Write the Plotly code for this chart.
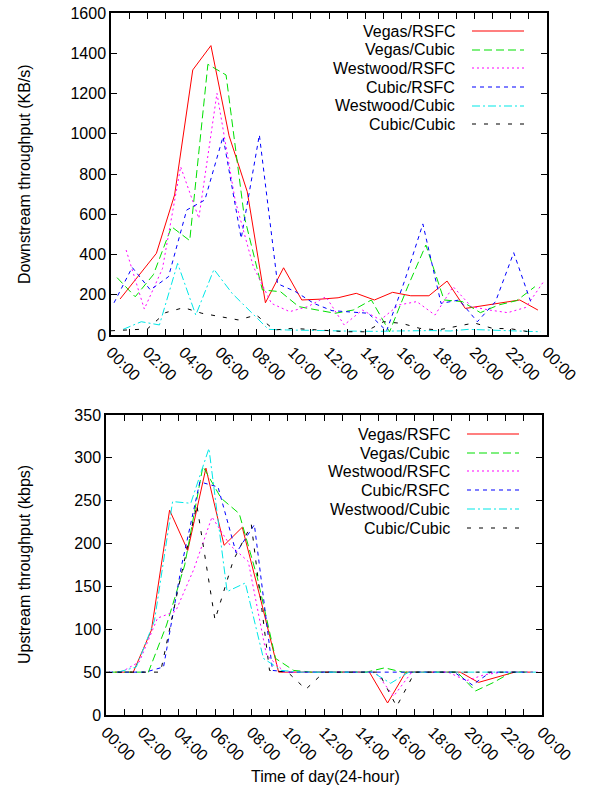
import plotly.graph_objects as go

# hours of the day; each config was measured at its own 10-minute slot
HOURS = list(range(24))
SERIES = ["Vegas/RSFC", "Vegas/Cubic", "Westwood/RSFC", "Cubic/RSFC", "Westwood/Cubic", "Cubic/Cubic"]
START_MIN = [30, 20, 50, 10, 40, 0]
COLORS = ["#ff0000", "#00e000", "#ff00ff", "#0000ff", "#00e8e8", "#000000"]
DASHES = ["solid", "8px,4px", "2px,3px", "4px,4px", "8px,3px,2px,3px", "4px,8px"]

TICK_TEXT = ["00:00", "", "02:00", "", "04:00", "", "06:00", "", "08:00", "", "10:00", "", "12:00",
             "", "14:00", "", "16:00", "", "18:00", "", "20:00", "", "22:00", "", "00:00"]

# Downstream throughput (KB/s)
down_vegas_rsfc = [179, 290, 406, 696, 1317, 1438, 990, 712, 160, 334, 174, 178,
                   185, 207, 174, 212, 195, 195, 268, 132, 145, 160, 174, 124]
down_vegas_cubic = [285, 190, 300, 538, 469, 1345, 1292, 590, 224, 215, 141, 124,
                    108, 124, 174, 16, 240, 447, 174, 166, 111, 149, 171, 240]
down_westwood_rsfc = [422, 129, 330, 836, 580, 1201, 670, 340, 157, 116, 141, 190,
                      50, 124, 75, 149, 166, 99, 240, 141, 124, 111, 137, 268]
down_cubic_rsfc = [160, 336, 224, 290, 621, 671, 985, 480, 994, 255, 215, 157,
                   121, 116, 108, 20, 270, 552, 157, 174, 66, 166, 409, 149]
down_westwood_cubic = [28, 66, 50, 356, 99, 326, 207, 116, 28, 25, 25, 22,
                       20, 18, 18, 20, 22, 22, 20, 28, 25, 22, 20, 16]
down_cubic_cubic = [21, 25, 30, 111, 136, 108, 91, 75, 99, 25, 33, 28,
                    21, 16, 16, 66, 58, 33, 25, 41, 60, 33, 31, 16]

# Upstream throughput (kbps)
up_vegas_rsfc = [50, 50, 99, 239, 192, 288, 198, 219, 136, 50, 50, 50,
                 50, 50, 50, 14, 50, 50, 50, 50, 38, 44, 50, 50]
up_vegas_cubic = [50, 50, 50, 105, 175, 290, 253, 235, 160, 66, 52, 50,
                  50, 50, 50, 55, 50, 50, 50, 50, 28, 38, 50, 50]
up_westwood_rsfc = [50, 62, 113, 121, 170, 231, 198, 179, 70, 50, 50, 50,
                    50, 50, 50, 22, 50, 50, 50, 40, 47, 50, 50, 50]
up_cubic_rsfc = [50, 50, 50, 56, 175, 272, 266, 189, 222, 52, 50, 50,
                 50, 50, 50, 50, 50, 50, 50, 50, 35, 50, 50, 50]
up_westwood_cubic = [50, 56, 110, 249, 247, 311, 144, 154, 66, 52, 50, 50,
                     50, 50, 50, 37, 50, 50, 50, 50, 50, 50, 50, 50]
up_cubic_cubic = [50, 50, 50, 50, 150, 245, 111, 180, 222, 52, 50, 30,
                  50, 50, 50, 50, 10, 50, 50, 50, 50, 50, 50, 50]

DOWN = [down_vegas_rsfc, down_vegas_cubic, down_westwood_rsfc,
        down_cubic_rsfc, down_westwood_cubic, down_cubic_cubic]
UP = [up_vegas_rsfc, up_vegas_cubic, up_westwood_rsfc,
      up_cubic_rsfc, up_westwood_cubic, up_cubic_cubic]

W, H = 594, 798
FONT = "Liberation Sans, Arial, Helvetica, sans-serif"
FS = 16


def px(x):
    return x / W


def py(y):
    return 1 - y / H


fig = go.Figure()

for i, name in enumerate(SERIES):
    t = [h + START_MIN[i] / 60 for h in HOURS]
    fig.add_trace(go.Scatter(x=t, y=DOWN[i], mode="lines", name=name,
                             line=dict(color=COLORS[i], width=1, dash=DASHES[i]),
                             xaxis="x", yaxis="y", showlegend=False))
for i, name in enumerate(SERIES):
    t = [h + START_MIN[i] / 60 for h in HOURS]
    fig.add_trace(go.Scatter(x=t, y=UP[i], mode="lines", name=name,
                             line=dict(color=COLORS[i], width=1, dash=DASHES[i]),
                             xaxis="x2", yaxis="y2", showlegend=False))

ax_common = dict(showline=True, linecolor="black", linewidth=1.5, mirror="allticks",
                 ticks="inside", ticklen=6, tickcolor="black", tickwidth=1,
                 showgrid=False, zeroline=False, automargin=False,
                 tickfont=dict(family=FONT, size=FS, color="black"))
xax = dict(ax_common, range=[0, 24], tickmode="array", tickvals=list(range(25)),
           ticktext=TICK_TEXT, tickangle=45)

fig.update_layout(
    width=W, height=H, margin=dict(l=0, r=0, t=0, b=0),
    paper_bgcolor="white", plot_bgcolor="white",
    font=dict(family=FONT, size=FS, color="black"),
    xaxis=dict(xax, domain=[px(111), px(547)], anchor="y"),
    yaxis=dict(ax_common, domain=[py(335), py(13)], range=[0, 1600], dtick=200, anchor="x"),
    xaxis2=dict(xax, domain=[px(106), px(542)], anchor="y2"),
    yaxis2=dict(ax_common, domain=[py(715), py(415)], range=[0, 350], dtick=50, anchor="x2"),
)

# axis titles
title_kw = dict(xref="paper", yref="paper", showarrow=False, xanchor="center", yanchor="middle",
                font=dict(size=FS))
fig.add_annotation(x=px(24), y=py(174), text="Downstream throughput (KB/s)", textangle=-90, **title_kw)
fig.add_annotation(x=px(24), y=py(565), text="Upstream throughput (kbps)", textangle=-90, **title_kw)
fig.add_annotation(x=px(325), y=py(776), text="Time of day(24-hour)", **title_kw)

# gnuplot-style keys: label right-aligned, line sample to the right
for top, txt_right, x0, x1 in [(31, 457, 472, 524), (434, 452, 467, 519)]:
    for i, name in enumerate(SERIES):
        yy = round(top + i * 18.7)
        fig.add_annotation(x=px(txt_right), y=py(yy), xref="paper", yref="paper", text=name,
                           xanchor="right", yanchor="middle", showarrow=False, font=dict(size=FS))
        fig.add_shape(type="line", xref="paper", yref="paper", x0=px(x0), x1=px(x1),
                      y0=py(yy), y1=py(yy), line=dict(color=COLORS[i], width=1.2, dash=DASHES[i]))

fig.write_html("out.html", config={"displayModeBar": False},
               post_script="document.body.style.margin='0';")
